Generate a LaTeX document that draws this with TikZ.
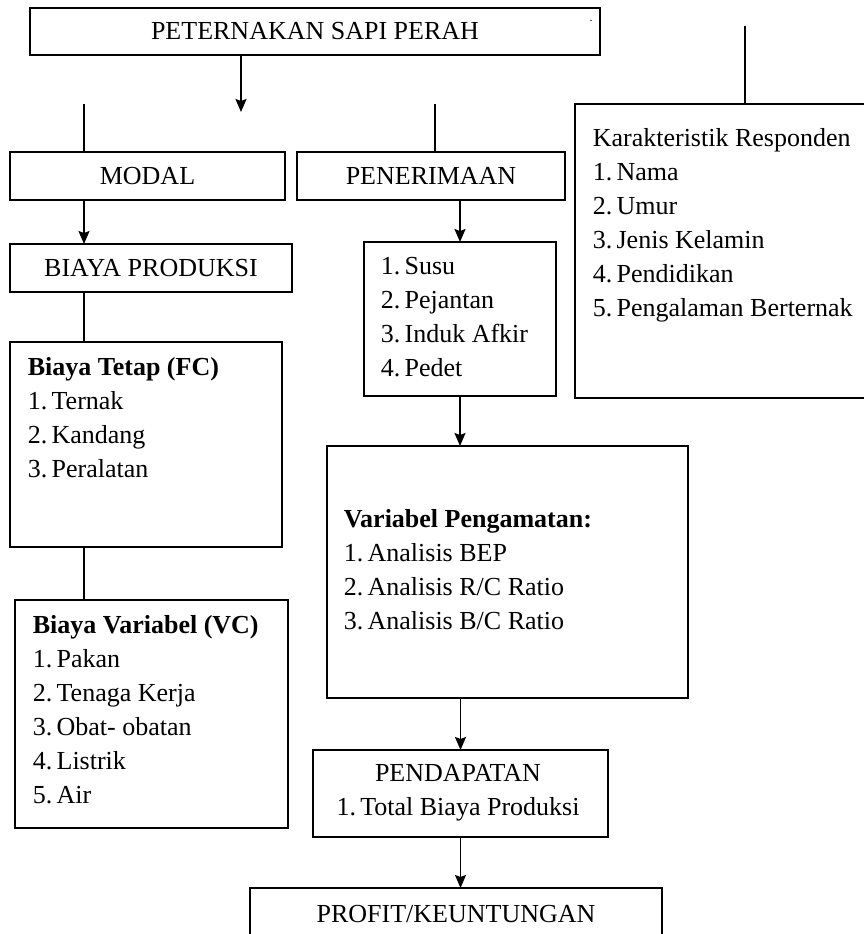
\documentclass[tikz,border=0pt]{standalone}
\usepackage{fontspec}
\setmainfont{Liberation Serif}
\usepackage{tikz}
\usetikzlibrary{arrows.meta}

\begin{document}
\begin{tikzpicture}[x=1pt,y=-1pt,line width=1.6pt,
        every node/.style={font=\fontsize{26}{34}\selectfont},
        box/.style={draw,anchor=north west,inner sep=0pt,outer sep=0pt},
        list/.style={anchor=north west,inner sep=0pt,align=left},
        arr/.style={-{Stealth[length=13pt,width=11pt,inset=2pt]}}]
        \useasboundingbox (0,0) rectangle (864,934);

        \node[box,minimum width=570,minimum height=47] (peternakan) at (30,8) {PETERNAKAN SAPI PERAH};
        \node[inner sep=0pt,font=\fontsize{12}{14}\selectfont] (titik) at (591,21) {.};
        \node[box,minimum width=275,minimum height=48] (modal) at (10,152) {MODAL};
        \node[box,minimum width=268,minimum height=48] (penerimaan) at (297,152) {PENERIMAAN};
        \node[box,minimum width=300,minimum height=294] (karakter) at (575,104) {};
        \node[list] (karaktertext) at (592,128) {Karakteristik Responden\\1.\,Nama\\2.\,Umur\\3.\,Jenis Kelamin\\4.\,Pendidikan\\5.\,Pengalaman Berternak};

        \node[box,minimum width=282,minimum height=48] (biaya) at (10,244) {BIAYA PRODUKSI};
        \node[box,minimum width=272,minimum height=205] (tetap) at (10,342) {};
        \node[list] (tetaptext) at (27,357) {\textbf{Biaya Tetap (FC)}\\1.\,Ternak\\2.\,Kandang\\3.\,Peralatan};
        \node[box,minimum width=273,minimum height=228] (variabel) at (15,600) {};
        \node[list] (variabeltext) at (32,615) {\textbf{Biaya Variabel (VC)}\\1.\,Pakan\\2.\,Tenaga Kerja\\3.\,Obat- obatan\\4.\,Listrik\\5.\,Air};

        \node[box,minimum width=192,minimum height=154] (susu) at (364,242) {};
        \node[list] (susutext) at (380,256) {1.\,Susu\\2.\,Pejantan\\3.\,Induk Afkir\\4.\,Pedet};
        \node[box,minimum width=361,minimum height=252] (pengamatan) at (327,446) {};
        \node[list] (pengamatantext) at (343,509) {\textbf{Variabel Pengamatan:}\\1.\,Analisis BEP\\2.\,Analisis R/C Ratio\\3.\,Analisis B/C Ratio};
        \node[box,minimum width=295,minimum height=87] (pendapatan) at (313,750) {};
        \node[anchor=north,inner sep=0pt,align=center] (pendapatantext) at (458,764) {PENDAPATAN\\1.\,Total Biaya Produksi};
        \node[box,minimum width=412,minimum height=52] (profit) at (250,888) {PROFIT/KEUNTUNGAN};

        \coordinate (ujung) at (241,112);
        \coordinate (kiri) at (84,104);
        \coordinate (tengah) at (435,104);
        \coordinate (kanan) at (745,26);

        \draw[arr] (peternakan.south -| ujung)--(ujung);
        \draw (kiri)--(kiri |- modal.north);
        \draw (tengah)--(tengah |- penerimaan.north);
        \draw (kanan)--(kanan |- karakter.north);
        \draw[arr] (modal.south -| kiri)--(kiri |- biaya.north);
        \draw (biaya.south -| kiri)--(kiri |- tetap.north);
        \draw (tetap.south -| kiri)--(kiri |- variabel.north);
        \draw[arr] (penerimaan.south -| susu.north)--(susu.north);
        \draw[arr] (susu.south)--(susu.south |- pengamatan.north);
        \draw[arr] (pengamatan.south -| pendapatan.north)--(pendapatan.north);
        \draw[arr] (pendapatan.south)--(pendapatan.south |- profit.north);
\end{tikzpicture}
\end{document}
